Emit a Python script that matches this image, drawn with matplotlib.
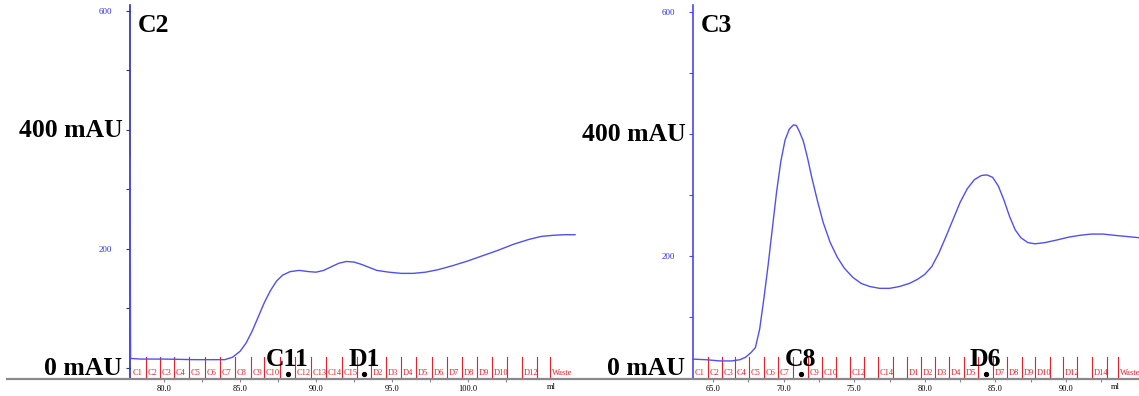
import matplotlib
matplotlib.use("Agg")
import matplotlib.pyplot as plt
from matplotlib.lines import Line2D

plt.rcParams['font.family'] = ['Liberation Serif', 'DejaVu Serif']

# UV trace, run C2 (ml, mAU)
c2_ml = [77.76, 77.80, 78.5, 80.0, 82.0, 83.0, 83.6, 84.0, 84.5, 85.0, 85.4, 85.8,
         86.2, 86.6, 87.0, 87.4, 87.8, 88.3, 88.9, 89.5, 90.0, 90.5, 91.0, 91.5,
         92.0, 92.5, 93.0, 93.5, 94.0, 94.8, 95.6, 96.4, 97.2, 98.0, 99.0, 100.0,
         101.0, 102.0, 103.0, 104.0, 104.8, 105.6, 106.4, 107.04]
c2_mau = [354, 16, 15, 15, 14, 14, 14, 14, 18, 28, 42, 62,
          86, 110, 130, 146, 156, 162, 164, 162, 161, 164, 170, 176,
          179, 178, 174, 169, 164, 161, 159, 159, 161, 165, 172, 180,
          189, 198, 208, 216, 221, 223, 224, 224]

# UV trace, run C3 (ml, mAU)
c3_ml = [63.58, 64.5, 65.5, 66.3, 66.9, 67.3, 67.7, 68.0, 68.3, 68.6, 68.9, 69.2,
         69.5, 69.8, 70.1, 70.4, 70.7, 70.9, 71.1, 71.4, 71.7, 72.0, 72.4, 72.8,
         73.3, 73.8, 74.3, 74.9, 75.5, 76.1, 76.8, 77.5, 78.2, 78.9, 79.5, 80.0,
         80.5, 81.0, 81.5, 82.0, 82.5, 83.0, 83.5, 84.0, 84.4, 84.8, 85.2, 85.6,
         86.0, 86.4, 86.8, 87.3, 87.8, 88.5, 89.3, 90.2, 91.0, 91.8, 92.6, 93.4,
         94.3, 95.17]
c3_mau = [31, 30, 28, 28, 30, 34, 42, 50, 80, 130, 185, 245,
          305, 355, 390, 408, 415, 414, 405, 388, 360, 328, 290, 255,
          222, 198, 180, 165, 155, 150, 147, 147, 150, 155, 162, 170,
          183, 205, 232, 260, 288, 310, 325, 332, 333, 329, 315, 292,
          265, 243, 230, 222, 220, 222, 226, 231, 234, 236, 236, 234,
          232, 230]

# fraction collector: start volume of each tube, printed name ('' = not printed)
c2_frac_start = [77.80, 78.82, 79.74, 80.68, 81.66, 82.70, 83.68, 84.67, 85.72, 86.58,
                 87.63, 88.62, 89.65, 90.64, 91.69, 92.72, 93.60, 94.59, 95.59, 96.58,
                 97.61, 98.60, 99.59, 100.57, 101.56, 102.55, 103.53, 104.52, 105.39]
c2_frac_name = ['C1', 'C2', 'C3', 'C4', 'C5', 'C6', 'C7', 'C8', 'C9', 'C10',
                'C11', 'C12', 'C13', 'C14', 'C15', 'D1', 'D2', 'D3', 'D4', 'D5',
                'D6', 'D7', 'D8', 'D9', 'D10', '', 'D12', '', 'Waste']
c2_picked = ['C11', 'D1']

c3_frac_start = [63.58, 64.62, 65.62, 66.56, 67.57, 68.63, 69.62, 70.69, 71.73, 72.72,
                 73.71, 74.70, 75.69, 76.69, 77.75, 78.72, 79.73, 80.72, 81.73, 82.78,
                 83.79, 84.81, 85.80, 86.86, 87.80, 88.86, 89.81, 90.80, 91.82, 92.88,
                 93.70]
c3_frac_name = ['C1', 'C2', 'C3', 'C4', 'C5', 'C6', 'C7', 'C8', 'C9', 'C10',
                '', 'C12', '', 'C14', '', 'D1', 'D2', 'D3', 'D4', 'D5',
                'D6', 'D7', 'D8', 'D9', 'D10', '', 'D12', '', 'D14', '',
                'Waste']
c3_picked = ['C8', 'D6']

c2_xticks = [80.0, 85.0, 90.0, 95.0, 100.0]
c3_xticks = [65.0, 70.0, 75.0, 80.0, 85.0, 90.0]
yticks = [0, 200, 400, 600]
ytick_labels = ['', '200', '', '600']

TRACE = '#5050ee'
FRAC = '#e8202a'

fig = plt.figure(figsize=(11.39, 3.96), dpi=100)

# continuous volume axis running under both panels
fig.add_artist(Line2D([7 / 1139, 1.0], [17 / 396, 17 / 396], color='#8a8a8a', lw=1.6))


def panel(rect, run, ml, mau, xlim, ylim, xticks, starts, names, picked,
          spine_col, zero_dy):
    ax = fig.add_axes(rect)
    ax.set_xlim(*xlim)
    ax.set_ylim(*ylim)
    ax.patch.set_alpha(0)
    for s in ('top', 'right', 'bottom'):
        ax.spines[s].set_visible(False)
    ax.spines['left'].set_color(spine_col)
    ax.spines['left'].set_linewidth(1.2)

    ax.plot(ml, mau, color=TRACE, lw=1.0, clip_on=False, zorder=3)

    ax.set_yticks(yticks)
    ax.set_yticklabels(ytick_labels)
    ax.set_yticks([100, 300, 500], minor=True)
    ax.tick_params(axis='y', which='both', length=3, width=0.8, color=spine_col,
                   labelcolor='#3030e0', labelsize=6.5, pad=10)
    ax.set_xticks(xticks)
    ax.set_xticklabels([f'{v:.1f}' for v in xticks])
    ax.set_xticks([v + 2.5 for v in xticks], minor=True)
    ax.tick_params(axis='x', which='both', length=2, width=0.8, color='#8a8a8a',
                   labelsize=6, pad=2)
    ax.text(0.947, -0.022, 'ml', transform=ax.transAxes, fontsize=6,
            ha='center', va='center')

    big = dict(fontsize=18.5, fontweight='bold', color='black')
    ax.annotate('400 mAU', xy=(0, 400), xycoords=('axes fraction', 'data'),
                xytext=(-5.5, -5), textcoords='offset points',
                ha='right', va='baseline', **big)
    ax.annotate('0 mAU', xy=(0, 0), xycoords=('axes fraction', 'data'),
                xytext=(-6, zero_dy), textcoords='offset points',
                ha='right', va='baseline', **big)
    ax.text(0.017, 0.928, run, transform=ax.transAxes, ha='left',
            va='baseline', **big)

    # fraction marks along the volume axis
    trans = ax.get_xaxis_transform()
    ends = starts[1:] + [xlim[1]]
    for i, (x0, name) in enumerate(zip(starts, names)):
        if i > 0:
            ax.plot([x0, x0], [0, 0.058], transform=trans, color=FRAC, lw=0.8,
                    clip_on=False)
        xc = (x0 + ends[i]) / 2
        if name in picked:
            ax.plot([xc], [0.014], transform=trans, marker='o', ms=2.8,
                    color='black', clip_on=False)
            ax.text(xc, 0.036, name, transform=trans, ha='center',
                    va='baseline', **big)
        elif name:
            ax.annotate(name, xy=(x0, 0.016), xycoords=trans,
                        xytext=(1.2, 0), textcoords='offset points',
                        ha='left', va='center', fontsize=6, color=FRAC)
    return ax


panel([130 / 1139, 17 / 396, 445 / 1139, 374 / 396], 'C2', c2_ml, c2_mau,
      (77.76, 107.04), (-18.5, 610), c2_xticks, c2_frac_start, c2_frac_name,
      c2_picked, '#2a2ab0', -5)
panel([693 / 1139, 17 / 396, 446 / 1139, 374 / 396], 'C3', c3_ml, c3_mau,
      (63.58, 95.17), (-1.6, 611.5), c3_xticks, c3_frac_start, c3_frac_name,
      c3_picked, '#4848f0', 2.2)

fig.savefig('out.png', dpi=100)
